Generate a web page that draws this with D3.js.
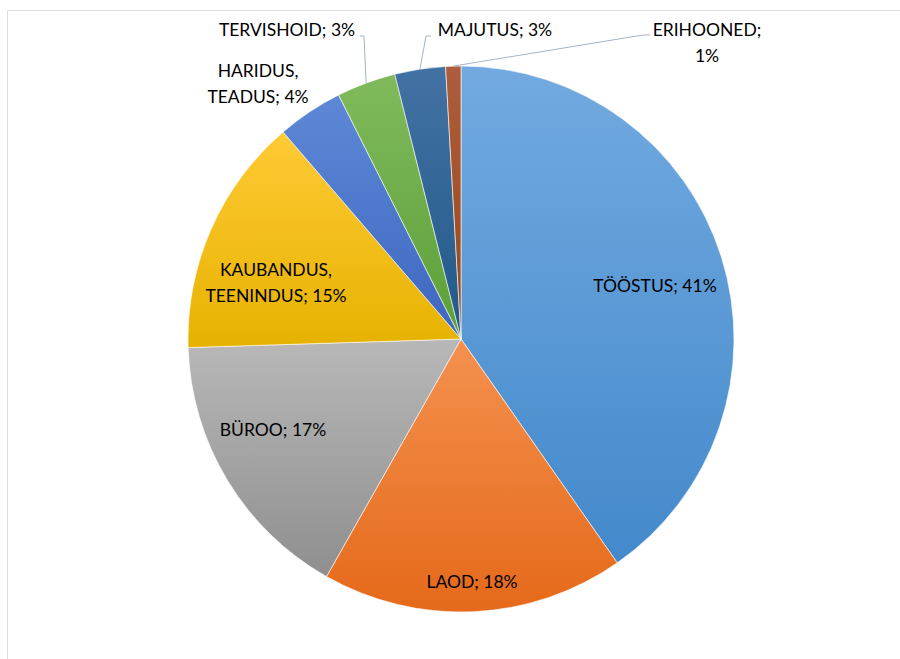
<!DOCTYPE html>
<html><head><meta charset="utf-8">
<script src="https://cdn.jsdelivr.net/npm/d3@7"></script>
<style>html,body{margin:0;padding:0;background:#fff;}svg{display:block;}</style>
</head><body>
<svg id="c" width="900" height="659"></svg>
<script>
const categories = ["TÖÖSTUS","LAOD","BÜROO","KAUBANDUS, TEENINDUS","HARIDUS, TEADUS","TERVISHOID","MAJUTUS","ERIHOONED"];
const values = [40.3, 17.9, 16.3, 14.2, 3.9, 3.5, 3.0, 0.9];
const pctLabels = ["41%","18%","17%","15%","4%","3%","3%","1%"];
const topColors = ["#72AAE0","#F4914F","#B8B8B8","#FFCA35","#5E88D6","#80BA5C","#4272A3","#AE5D3D"];
const bottomColors = ["#4389CB","#E5691A","#8F8F8F","#E6B200","#3D67C0","#5C9F38","#215989","#984716"];

const svg = d3.select("#c");
const cx = 461, cy = 339, R = 273;

// chart border
svg.append("path").attr("d","M7.5,920 V10.5 H920").attr("fill","none").attr("stroke","#DCDCE4").attr("stroke-width",1);

const defs = svg.append("defs");
categories.forEach((c,i)=>{
  const g = defs.append("linearGradient").attr("id","g"+i)
    .attr("x1",0).attr("y1",0).attr("x2",0).attr("y2",1);
  g.append("stop").attr("offset","0%").attr("stop-color",topColors[i]);
  g.append("stop").attr("offset","100%").attr("stop-color",bottomColors[i]);
});

const pie = d3.pie().sort(null).value(d=>d)(values);
const arc = d3.arc().innerRadius(0).outerRadius(R);
const gp = svg.append("g").attr("transform",`translate(${cx},${cy})`);
gp.selectAll("path").data(pie).join("path")
  .attr("d",arc)
  .attr("fill",(d,i)=>`url(#g${i})`)
  .attr("stroke","#ffffff").attr("stroke-width",0.6);

// label placements (text lines, anchor centre)
const labelPos = [
  {x:655, y:292, lines:["TÖÖSTUS; "+pctLabels[0]]},
  {x:472, y:588, lines:["LAOD; "+pctLabels[1]]},
  {x:273, y:436, lines:["BÜROO; "+pctLabels[2]]},
  {x:276, y:276, lines:["KAUBANDUS,","TEENINDUS; "+pctLabels[3]]},
  {x:258, y:77, lines:["HARIDUS,","TEADUS; "+pctLabels[4]]},
  {x:287, y:36, lines:["TERVISHOID; "+pctLabels[5]]},
  {x:495, y:36, lines:["MAJUTUS; "+pctLabels[6]]},
  {x:707, y:36, lines:["ERIHOONED;",pctLabels[7]]}
];
const lab = svg.append("g").attr("font-family","Lato, 'Open Sans', sans-serif").attr("font-size",17.5).attr("fill","#000");
labelPos.forEach(p=>{
  const t = lab.append("text").attr("text-anchor","middle");
  p.lines.forEach((l,k)=>{
    t.append("tspan").attr("x",p.x).attr("y",p.y+k*26).text(l);
  });
});

// leader lines from label to slice rim
function rimPoint(i){
  const a = (pie[i].startAngle+pie[i].endAngle)/2;
  return [cx+R*Math.sin(a), cy-R*Math.cos(a)];
}
const leaders = [
  {i:5, pts:[[360,36],[364,36]]},
  {i:6, pts:[[431,36],[426,36]]},
  {i:7, pts:[[650,35],[643,35]]}
];
leaders.forEach(l=>{
  const pts = l.pts.concat([rimPoint(l.i)]);
  svg.append("path").attr("d",d3.line()(pts)).attr("fill","none")
    .attr("stroke","#A6B4C8").attr("stroke-width",1);
});
</script>
</body></html>
